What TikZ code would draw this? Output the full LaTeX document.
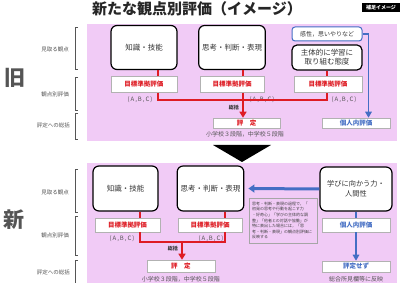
\documentclass[tikz,border=0pt]{standalone}
\usepackage{fontspec}
\setmainfont{Noto Sans CJK JP}
\usetikzlibrary{arrows.meta,shadows}

\definecolor{pinkbg}{RGB}{241,203,246}
\definecolor{redtx}{RGB}{222,28,36}
\definecolor{bluetx}{RGB}{68,110,196}
\definecolor{graytx}{RGB}{85,85,85}

\tikzset{
  kanten/.style={draw, line width=1.2pt, rounded corners=6pt, fill=white, align=center,
    text=black!80, font=\fontsize{7.5}{9.5}\selectfont},
  kansei/.style={draw=bluetx, line width=1pt, rounded corners=3pt, fill=white,
    text=black!80, font=\fontsize{6}{7}\selectfont, minimum width=70pt, minimum height=14pt, inner sep=0pt},
  mokuhyo/.style={draw=gray!60, line width=0.5pt, fill=white, inner sep=0pt,
    drop shadow={shadow xshift=0.8pt, shadow yshift=-0.8pt, opacity=0.3},
    font=\bfseries\fontsize{6.5}{7}\selectfont},
  abc/.style={text=graytx, font=\fontsize{6}{7}\selectfont, inner sep=0pt},
  small/.style={text=graytx, font=\fontsize{6}{7}\selectfont, inner sep=0pt},
  sidelbl/.style={text=graytx, font=\fontsize{5.5}{6}\selectfont, anchor=east, inner sep=0pt},
  bigch/.style={text=graytx, font=\bfseries\fontsize{21}{22}\selectfont, inner sep=0pt},
  redln/.style={draw=redtx, line width=1.4pt},
  redarr/.style={redln, -{Triangle[length=6pt,width=7pt]}},
  blueln/.style={draw=bluetx, line width=1.8pt},
  bluearr/.style={blueln, -{Triangle[length=6pt,width=6.5pt]}},
}

\begin{document}
\begin{tikzpicture}[x=1pt, y=-1pt]
\useasboundingbox (0,0) rectangle (400,283);

% title and tag
\node[font=\bfseries\fontsize{15}{16}\selectfont, text=black!85] (title) at (197,9) {新たな観点別評価（イメージ）};
\node[fill=black, text=white, font=\bfseries\fontsize{5}{6}\selectfont, minimum width=38pt, minimum height=9pt, inner sep=0pt] (tag) at (381,8) {補足イメージ};

% backgrounds
\fill[pinkbg] (87,24) rectangle (397,141);
\fill[pinkbg] (87,163) rectangle (397,283);

% side labels and brackets
\foreach \ya/\yb in {27/69, 77/110, 113/139, 169/212, 216/255, 260/283}
  \draw[graytx, line width=0.6pt] (78,\ya) -- (75,\ya) -- (75,\yb) -- (78,\yb);
\node[sidelbl] (mitoruA) at (69,49) {見取る観点};
\node[sidelbl] (kantenA) at (69,94) {観点別評価};
\node[sidelbl] (hyoteiLA) at (70,125) {評定への総括};
\node[sidelbl] (mitoruB) at (69,192) {見取る観点};
\node[sidelbl] (kantenB) at (69,235) {観点別評価};
\node[sidelbl] (hyoteiLB) at (70,272) {評定への総括};
\node[bigch] (kyu) at (15,78) {旧};
\node[bigch] (shin) at (14,220) {新};

%% old
\node[kanten, minimum width=66pt, minimum height=44pt] (chishikiA) at (144,47.5) {知識・技能};
\node[kanten, minimum width=64pt, minimum height=44pt] (shikoA) at (232,47.5) {思考・判断・表現};
\node[kansei] (kanseiA) at (327,34) {感性，思いやりなど};
\node[kanten, minimum width=70pt, minimum height=25pt, rounded corners=5pt, inner sep=1pt,
  font=\fontsize{7.5}{9}\selectfont] (taidoA) at (327,57.5) {主体的に学習に\\取り組む態度};

\node[mokuhyo, text=redtx, minimum width=66pt, minimum height=16pt] (mokA1) at (144,84.5) {目標準拠評価};
\node[mokuhyo, text=redtx, minimum width=64pt, minimum height=16pt] (mokA2) at (232,84.5) {目標準拠評価};
\node[mokuhyo, text=redtx, minimum width=68pt, minimum height=16pt] (mokA3) at (328,84.5) {目標準拠評価};
\node[abc] (abcA1) at (140,100) {(\,A\,,\,B\,,\,C\,)};
\node[abc] (abcA2) at (262,100) {(\,A\,,\,B\,,\,C\,)};
\node[abc] (abcA3) at (344,100) {(\,A\,,\,B\,,\,C\,)};

\node[mokuhyo, text=redtx, minimum width=67pt, minimum height=10pt] (hyoteiA) at (246.5,123) {評\quad 定};
\node[small] (dankaiA) at (245,134) {小学校３段階，中学校５段階};
\node[mokuhyo, text=bluetx, minimum width=68pt, minimum height=10pt] (kojinA) at (356,123) {個人内評価};

\coordinate (jA) at (243,100);
\draw[redln] ([xshift=14pt]chishikiA.south) -- ([xshift=14pt]mokA1.north);
\draw[redln] ([xshift=11pt]shikoA.south) -- ([xshift=11pt]mokA2.north);
\draw[redln] (taidoA.south) -- (taidoA.south |- mokA3.north);
\draw[redln] ([xshift=14pt]mokA1.south) |- (jA) -| ([xshift=-1pt]mokA3.south);
\draw[redln] ([xshift=11pt]mokA2.south) -- (jA);
\draw[redarr] (jA) -- (jA |- hyoteiA.north);
\node[abc, text=black!80, font=\bfseries\fontsize{5}{6}\selectfont, anchor=east] (sokatsuA) at (239,108) {総括};
\draw[bluearr] (kanseiA.east) -- ++(6,0) coordinate (bA) -- (bA |- kojinA.north);

% arrow between
\fill[black] (213,145) -- (271,145) -- (242,162) -- cycle;

%% new
\node[kanten, minimum width=65pt, minimum height=45pt] (chishikiB) at (125.5,188.5) {知識・技能};
\node[kanten, minimum width=65pt, minimum height=45pt] (shikoB) at (210.5,188.5) {思考・判断・表現};
\node[kanten, minimum width=72pt, minimum height=44pt, font=\fontsize{7.2}{10}\selectfont] (manabiB) at (356,189) {学びに向かう力・\\人間性};
\draw[blueln, line width=3pt, -{Triangle[length=6pt,width=8pt]}] (manabiB.west) -- ([xshift=4pt]shikoB.east);

\node[draw=gray!70, line width=0.5pt, fill=pinkbg, minimum width=68pt, minimum height=45pt,
  text width=62pt, align=left, inner sep=2pt, text=black!75, font=\fontsize{4}{5.6}\selectfont] (noteB) at (283,220.5)
  {思考・判断・表現の過程で，「\\初発の思考や行動を起こす力\\・好奇心」「学びの主体的な調\\整」「他者との対話や協働」が\\特に表出した場合には，「思\\考・判断・表現」の観点別評価に\\反映する};

\node[mokuhyo, text=redtx, minimum width=65pt, minimum height=14pt] (mokB1) at (127.5,225) {目標準拠評価};
\node[mokuhyo, text=redtx, minimum width=64pt, minimum height=14pt] (mokB2) at (210,225) {目標準拠評価};
\node[abc] (abcB1) at (122,239) {(\,A\,,\,B\,,\,C\,)};
\node[abc] (abcB2) at (211,239) {(\,A\,,\,B\,,\,C\,)};

\node[mokuhyo, text=redtx, minimum width=68pt, minimum height=12pt] (hyoteiB) at (181,266) {評\quad 定};
\node[small] (dankaiB) at (181,279) {小学校３段階，中学校５段階};

\coordinate (jB) at (182,242);
\draw[redln] ([xshift=14.5pt]chishikiB.south) -- ([xshift=12.5pt]mokB1.north);
\draw[redln] ([xshift=14.5pt]shikoB.south) -- ([xshift=15pt]mokB2.north);
\draw[redln] ([xshift=12.5pt]mokB1.south) |- (jB) -| ([xshift=15pt]mokB2.south);
\draw[redarr] (jB) -- (jB |- hyoteiB.north);
\node[abc, text=black!80, font=\bfseries\fontsize{5}{6}\selectfont, anchor=east] (sokatsuB) at (178,249) {総括};

\node[mokuhyo, text=bluetx, minimum width=68pt, minimum height=14pt] (kojinB) at (356,225) {個人内評価};
\node[mokuhyo, text=bluetx, minimum width=68pt, minimum height=11pt] (sezuB) at (356,266.5) {評定せず};
\node[small] (hanneiB) at (356,279) {総合所見欄等に反映};
\draw[blueln] (manabiB.south) -- (kojinB.north);
\draw[bluearr] (kojinB.south) -- (sezuB.north);
\end{tikzpicture}
\end{document}
